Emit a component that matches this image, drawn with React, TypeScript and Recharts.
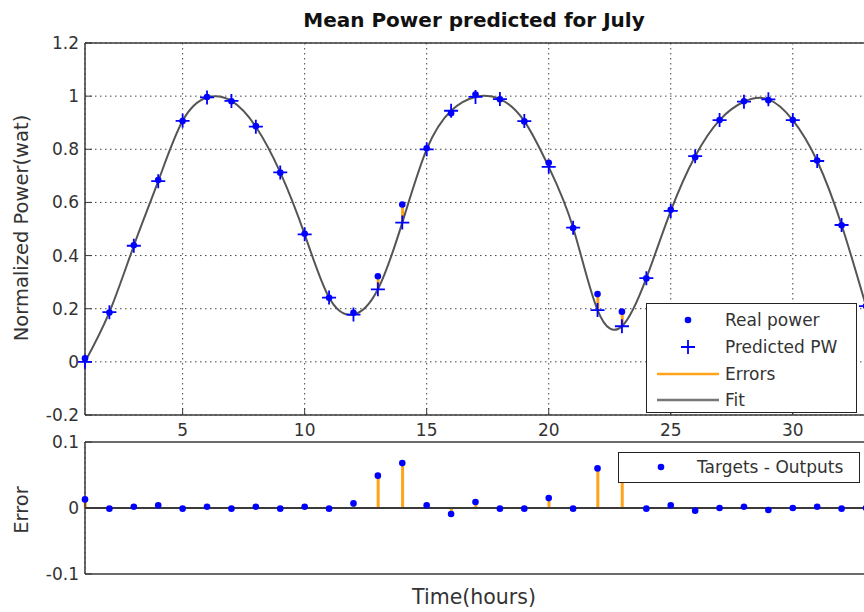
import React from "react";
import {
  ComposedChart,
  Line,
  Scatter,
  Bar,
  XAxis,
  YAxis,
  CartesianGrid,
  ReferenceLine,
} from "recharts";

const hours = [
  1, 2, 3, 4, 5, 6, 7, 8, 9, 10, 11, 12, 13, 14, 15, 16, 17, 18, 19, 20, 21,
  22, 23, 24, 25, 26, 27, 28, 29, 30, 31, 32, 33,
];

const predictedPW = [
  0, 0.187, 0.437, 0.68, 0.907, 0.995, 0.982, 0.885, 0.713, 0.48, 0.242, 0.178,
  0.273, 0.524, 0.8, 0.945, 0.997, 0.989, 0.906, 0.734, 0.505, 0.195, 0.134,
  0.315, 0.568, 0.774, 0.91, 0.979, 0.988, 0.91, 0.756, 0.515, 0.21,
];

const realPower = [
  0.013, 0.186, 0.439, 0.684, 0.906, 0.997, 0.981, 0.887, 0.712, 0.482, 0.241,
  0.185, 0.322, 0.592, 0.804, 0.936, 1.006, 0.988, 0.905, 0.749, 0.504, 0.255,
  0.189, 0.314, 0.572, 0.77, 0.91, 0.981, 0.985, 0.91, 0.758, 0.514, 0.21,
];

const errors = [
  0.013, -0.001, 0.002, 0.004, -0.001, 0.002, -0.001, 0.002, -0.001, 0.002,
  -0.001, 0.007, 0.049, 0.068, 0.004, -0.009, 0.009, -0.001, -0.001, 0.015,
  -0.001, 0.06, 0.055, -0.001, 0.004, -0.004, 0, 0.002, -0.003, 0, 0.002,
  -0.001, 0,
];

const xTicks = [5, 10, 15, 20, 25, 30];
const powerTicks = [-0.2, 0, 0.2, 0.4, 0.6, 0.8, 1, 1.2];
const errorTicks = [-0.1, 0, 0.1];

const FONT = '"DejaVu Sans", sans-serif';
const BLUE = "#0000ff";
const ORANGE = "#ffa31a";
const FIT = "#555555";
const AXIS = "#3a3a3a";
const TEXT = "#333333";

const powerRows = hours.map((h, i) => ({
  hour: h,
  predicted: predictedPW[i],
  real: realPower[i],
  errRange: [
    Math.min(predictedPW[i], realPower[i]),
    Math.max(predictedPW[i], realPower[i]),
  ],
}));

const errorRows = hours.map((h, i) => ({ hour: h, error: errors[i] }));

const tickStyle = { fill: TEXT, fontSize: 17, fontFamily: FONT };

const PlusMarker = (props: any) => {
  const { cx, cy } = props;
  if (cx == null || cy == null) return null;
  return (
    <path
      d={`M${cx - 7},${cy}H${cx + 7}M${cx},${cy - 7}V${cy + 7}`}
      stroke={BLUE}
      strokeWidth={1.8}
      fill="none"
    />
  );
};

const DotMarker = (props: any) => {
  const { cx, cy } = props;
  if (cx == null || cy == null) return null;
  return <circle cx={cx} cy={cy} r={3.3} fill={BLUE} />;
};

const label = (x: number, y: number, text: string, size: number, rotate = false) => (
  <div
    style={{
      position: "absolute",
      left: x,
      top: y,
      transform: `translate(-50%, -50%)${rotate ? " rotate(-90deg)" : ""}`,
      whiteSpace: "nowrap",
      fontFamily: FONT,
      fontSize: size,
      lineHeight: 1,
      color: TEXT,
    }}
  >
    {text}
  </div>
);

function PowerLegend() {
  const row = (top: number, marker: React.ReactNode, text: string) => (
    <div style={{ position: "absolute", left: 0, top: top - 13, height: 26, width: "100%" }}>
      <svg width={78} height={26} style={{ position: "absolute", left: 0, top: 0 }}>
        {marker}
      </svg>
      <span
        style={{
          position: "absolute",
          left: 78,
          top: 3,
          fontSize: 17,
          lineHeight: "20px",
          fontFamily: FONT,
          color: TEXT,
          whiteSpace: "nowrap",
        }}
      >
        {text}
      </span>
    </div>
  );
  return (
    <div
      style={{
        position: "absolute",
        left: 646,
        top: 303,
        width: 209,
        height: 108,
        border: "1.5px solid #222",
        background: "#fff",
      }}
    >
      {row(16, <circle cx={41} cy={13} r={3.3} fill={BLUE} />, "Real power")}
      {row(
        43,
        <path d="M34,13H48M41,6V20" stroke={BLUE} strokeWidth={1.8} />,
        "Predicted PW"
      )}
      {row(70, <line x1={10} x2={72} y1={13} y2={13} stroke={ORANGE} strokeWidth={2.5} />, "Errors")}
      {row(96, <line x1={10} x2={72} y1={13} y2={13} stroke="#777" strokeWidth={2.5} />, "Fit")}
    </div>
  );
}

function ErrorLegend() {
  return (
    <div
      style={{
        position: "absolute",
        left: 618,
        top: 452,
        width: 240,
        height: 29,
        border: "1.5px solid #222",
        background: "#fff",
      }}
    >
      <svg width={60} height={29} style={{ position: "absolute", left: 0, top: 0 }}>
        <circle cx={42} cy={14} r={3.3} fill={BLUE} />
      </svg>
      <span
        style={{
          position: "absolute",
          left: 78,
          top: 4,
          fontSize: 17,
          lineHeight: "20px",
          fontFamily: FONT,
          color: TEXT,
          whiteSpace: "nowrap",
        }}
      >
        Targets - Outputs
      </span>
    </div>
  );
}

export default function App() {
  return (
    <div
      style={{
        position: "absolute",
        left: 0,
        top: 0,
        width: 864,
        height: 612,
        overflow: "hidden",
        background: "#fff",
        fontFamily: FONT,
      }}
    >
      <div
        style={{
          position: "absolute",
          left: 474,
          top: 9,
          transform: "translateX(-50%)",
          whiteSpace: "nowrap",
          fontSize: 20,
          fontWeight: "bold",
          lineHeight: "22px",
          color: "#111",
        }}
      >
        Mean Power predicted for July
      </div>

      <div style={{ position: "absolute", left: 0, top: 0 }}>
        <ComposedChart
          width={867}
          height={440}
          data={powerRows}
          margin={{ top: 42, right: 0, bottom: 0, left: 0 }}
        >
          <CartesianGrid stroke="#444" strokeDasharray="1.5 3.5" />
          <XAxis
            dataKey="hour"
            type="number"
            domain={[1, 33]}
            ticks={xTicks}
            interval={0}
            height={25}
            tickSize={-7}
            tickMargin={16}
            axisLine={{ stroke: AXIS, strokeWidth: 1.5 }}
            tickLine={{ stroke: AXIS }}
            tick={tickStyle}
          />
          <XAxis
            xAxisId="top"
            orientation="top"
            dataKey="hour"
            type="number"
            domain={[1, 33]}
            ticks={xTicks}
            interval={0}
            height={1}
            tickSize={-7}
            tick={false}
            axisLine={{ stroke: AXIS, strokeWidth: 1.5 }}
            tickLine={{ stroke: AXIS }}
          />
          <YAxis
            type="number"
            domain={[-0.2, 1.2]}
            ticks={powerTicks}
            interval={0}
            width={85}
            tickSize={-7}
            tickMargin={13}
            axisLine={{ stroke: AXIS, strokeWidth: 1.5 }}
            tickLine={{ stroke: AXIS }}
            tick={tickStyle}
          />
          <YAxis
            yAxisId="right"
            orientation="right"
            type="number"
            domain={[-0.2, 1.2]}
            ticks={powerTicks}
            interval={0}
            width={1}
            tickSize={-7}
            tick={false}
            axisLine={{ stroke: AXIS, strokeWidth: 1.5 }}
            tickLine={{ stroke: AXIS }}
          />
          <Bar dataKey="errRange" fill={ORANGE} barSize={3} isAnimationActive={false} />
          <Line
            type="natural"
            dataKey="predicted"
            stroke={FIT}
            strokeWidth={2}
            dot={false}
            activeDot={false}
            isAnimationActive={false}
          />
          <Scatter dataKey="real" shape={DotMarker} isAnimationActive={false} />
          <Scatter dataKey="predicted" shape={PlusMarker} isAnimationActive={false} />
        </ComposedChart>
      </div>

      <div style={{ position: "absolute", left: 0, top: 424 }}>
        <ComposedChart
          width={867}
          height={188}
          data={errorRows}
          margin={{ top: 17, right: 0, bottom: 0, left: 0 }}
        >
          <CartesianGrid stroke="#444" strokeDasharray="1.5 3.5" horizontal={false} />
          <XAxis
            dataKey="hour"
            type="number"
            domain={[1, 33]}
            ticks={xTicks}
            interval={0}
            height={38}
            tickSize={-7}
            tick={false}
            axisLine={{ stroke: AXIS, strokeWidth: 1.5 }}
            tickLine={{ stroke: AXIS }}
          />
          <XAxis
            xAxisId="top"
            orientation="top"
            dataKey="hour"
            type="number"
            domain={[1, 33]}
            ticks={xTicks}
            interval={0}
            height={1}
            tickSize={-7}
            tick={false}
            axisLine={{ stroke: AXIS, strokeWidth: 1.5 }}
            tickLine={{ stroke: AXIS }}
          />
          <YAxis
            type="number"
            domain={[-0.1, 0.1]}
            ticks={errorTicks}
            interval={0}
            width={85}
            tickSize={-7}
            tickMargin={13}
            axisLine={{ stroke: AXIS, strokeWidth: 1.5 }}
            tickLine={{ stroke: AXIS }}
            tick={tickStyle}
          />
          <YAxis
            yAxisId="right"
            orientation="right"
            type="number"
            domain={[-0.1, 0.1]}
            ticks={errorTicks}
            interval={0}
            width={1}
            tickSize={-7}
            tick={false}
            axisLine={{ stroke: AXIS, strokeWidth: 1.5 }}
            tickLine={{ stroke: AXIS }}
          />
          <Bar dataKey="error" fill={ORANGE} barSize={3} isAnimationActive={false} />
          <ReferenceLine y={0} stroke={AXIS} strokeWidth={2} />
          <Scatter dataKey="error" shape={DotMarker} isAnimationActive={false} />
        </ComposedChart>
      </div>

      <PowerLegend />
      <ErrorLegend />

      {label(22, 228, "Normalized Power(wat)", 19.5, true)}
      {label(22, 510, "Error", 19.5, true)}
      {label(474, 597, "Time(hours)", 20.5)}
    </div>
  );
}
